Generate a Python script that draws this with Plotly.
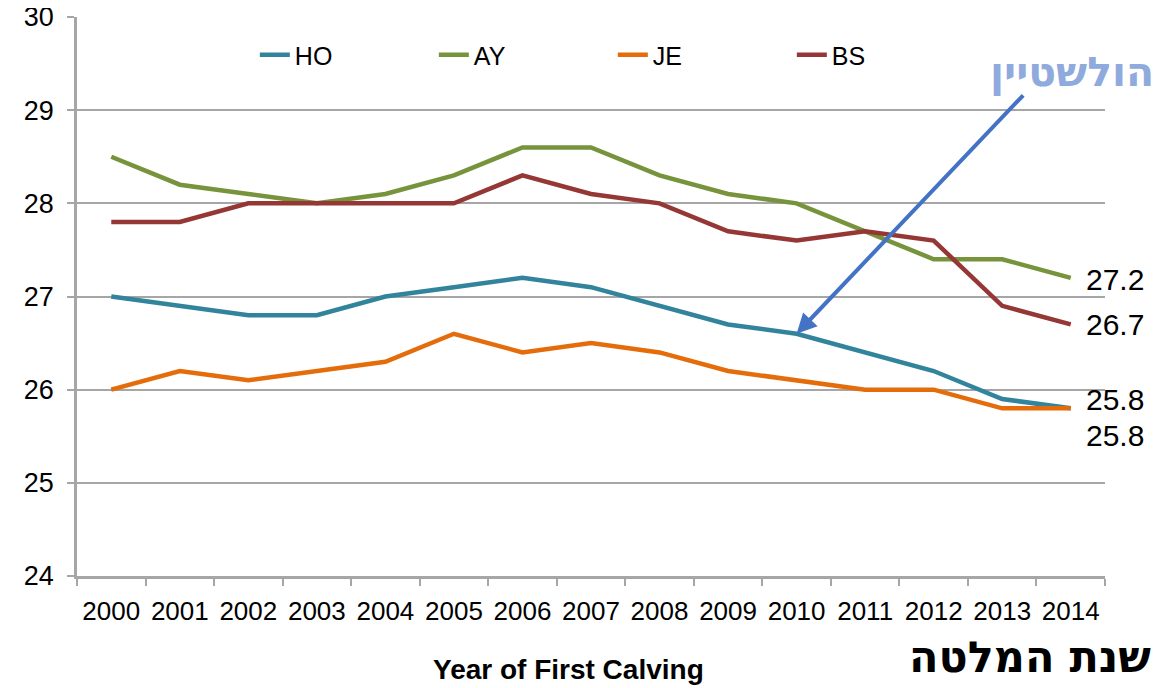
import plotly.graph_objects as go

years = list(range(2000, 2015))
year_labels = [str(y) for y in years]
ho = [27.0, 26.9, 26.8, 26.8, 27.0, 27.1, 27.2, 27.1, 26.9, 26.7, 26.6, 26.4, 26.2, 25.9, 25.8]
ay = [28.5, 28.2, 28.1, 28.0, 28.1, 28.3, 28.6, 28.6, 28.3, 28.1, 28.0, 27.7, 27.4, 27.4, 27.2]
je = [26.0, 26.2, 26.1, 26.2, 26.3, 26.6, 26.4, 26.5, 26.4, 26.2, 26.1, 26.0, 26.0, 25.8, 25.8]
bs = [27.8, 27.8, 28.0, 28.0, 28.0, 28.0, 28.3, 28.1, 28.0, 27.7, 27.6, 27.7, 27.6, 26.9, 26.7]

series = [("HO", ho, "#31849B"), ("AY", ay, "#77933C"), ("JE", je, "#E46C0A"), ("BS", bs, "#953735")]
end_label_shift = {"HO": 9, "AY": -2, "JE": -27, "BS": 0}

FONT = "Liberation Sans, Arial, sans-serif"
GRID = "#A6A6A6"

fig = go.Figure()
for name, vals, col in series:
    fig.add_trace(go.Scatter(x=years, y=vals, name=name, mode="lines",
                             line=dict(color=col, width=4.5)))

for name, vals, col in series:
    fig.add_annotation(x=years[-1], y=vals[-1], text=f"{vals[-1]:.1f}", showarrow=False,
                       xanchor="left", yanchor="middle", xshift=13, yshift=end_label_shift[name],
                       font=dict(family=FONT, size=30, color="black"))

# Holstein arrow + label
fig.add_annotation(x=years[10], y=ho[10], text="", showarrow=True, ax=228, ay=-240,
                   arrowhead=2, arrowsize=1, arrowwidth=4, arrowcolor="#4472C4")
fig.add_annotation(x=1.0, y=0.9016, xref="paper", yref="paper", text="<b>הולשטיין</b>",
                   showarrow=False, xanchor="center", yanchor="middle", xshift=-33,
                   font=dict(family="DejaVu Sans, Noto Sans, sans-serif", size=41, color="#8FAADC"))
fig.add_annotation(x=1.0, y=-0.145, xref="paper", yref="paper", text="<b>שנת המלטה</b>",
                   showarrow=False, xanchor="center", yanchor="middle", xshift=-75,
                   font=dict(family="DejaVu Sans, Noto Sans, sans-serif", size=43, color="black"))
fig.add_annotation(x=0.478, y=-0.168, xref="paper", yref="paper", text="<b>Year of First Calving</b>",
                   showarrow=False, xanchor="center", yanchor="middle",
                   font=dict(family="Liberation Sans Narrow, Arial Narrow, Liberation Sans, sans-serif",
                             size=28, color="black"))

fig.update_layout(
    width=1173, height=688,
    margin=dict(l=69, r=76, t=9, b=120, autoexpand=False),
    paper_bgcolor="white", plot_bgcolor="white",
    showlegend=True,
    legend=dict(orientation="h", x=0.173, y=0.932, xanchor="left", yanchor="middle",
                entrywidth=134, entrywidthmode="pixels", bgcolor="rgba(0,0,0,0)",
                font=dict(family=FONT, size=25, color="black")),
    xaxis=dict(range=[1999.5, 2014.5], tickmode="array", tickvals=years, ticktext=year_labels,
               ticks="", tickangle=0, automargin=False, ticklabelstandoff=10,
               ticklabeloverflow="allow",
               minor=dict(tick0=1999.5, dtick=1, ticks="outside", ticklen=7, tickwidth=2,
                          tickcolor=GRID, showgrid=False),
               showline=True, linecolor=GRID, linewidth=2.5, showgrid=False,
               tickfont=dict(family=FONT, size=26, color="black"), zeroline=False),
    yaxis=dict(range=[24, 30], dtick=1, ticks="outside", ticklen=7, tickwidth=2, tickcolor=GRID,
               automargin=False, ticklabelstandoff=8, ticklabeloverflow="allow",
               showline=True, linecolor=GRID, linewidth=2.5, showgrid=True, gridcolor=GRID,
               gridwidth=2, tickfont=dict(family=FONT, size=27, color="black"), zeroline=False),
)

fig.write_html("out.html")
